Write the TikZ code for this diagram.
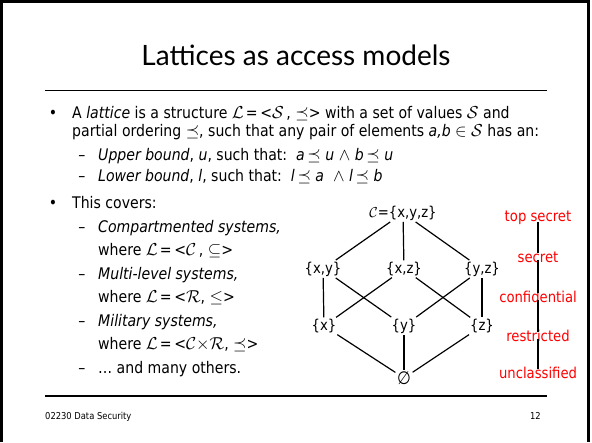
\documentclass[tikz,border=0pt]{standalone}
\usepackage{fontspec}
\setmainfont{DejaVu Sans}[FakeStretch=0.88]
\newfontfamily\titlefont{Lato}
\usetikzlibrary{positioning}

\begin{document}
\begin{tikzpicture}[
        x=1pt, y=-1pt,
        bodytext/.style={
            anchor=base west,
            inner sep=0pt,
            font=\fontsize{16}{19}\selectfont
        },
        bulletmark/.style={
            anchor=base,
            inner sep=0pt,
            font=\fontsize{16}{19}\selectfont
        },
        setnode/.style={
            inner sep=1.5pt,
            font=\fontsize{15}{18}\selectfont
        },
        levelnode/.style={
            inner sep=0pt,
            text=red,
            font=\fontsize{15}{18}\selectfont
        },
        orderline/.style={
            line width=1.2pt
        },
        rule/.style={
            line width=1.8pt
        }
    ]
        \useasboundingbox (0,0) rectangle (592,442);

        % Slide frame and title
        \draw[line width=3pt] (1.5,442) -- (1.5,1.5) -- (588.5,1.5) -- (588.5,442);
        \node[anchor=base, inner sep=0pt, font=\titlefont\fontsize{28}{32}\selectfont]
            (title) at (296,65) {Lattices as access models};
        \draw[rule] (45,90.5) -- (547,90.5);

        % Definition
        \node[bulletmark] (b1) at (53,118) {\textbullet};
        \node[bodytext] (l1) at (72,118)
            {A \textit{lattice} is a structure $\mathcal{L}$\kern2pt=\,<$\mathcal{S}$\,, $\preceq$> with a set of values $\mathcal{S}$ and};
        \node[bodytext] (l2) at (72,136)
            {partial ordering $\preceq$, such that any pair of elements \textit{a,b} $\in$ $\mathcal{S}$ has an:};
        \node[bulletmark] (d1) at (82,160) {--};
        \node[bodytext] (l3) at (98,160)
            {\textit{Upper bound}, \textit{u}, such that:\ \ \textit{a}\,$\preceq$ \textit{u} $\wedge$ \textit{b}\,$\preceq$ \textit{u}};
        \node[bulletmark] (d2) at (82,181) {--};
        \node[bodytext] (l4) at (98,181)
            {\textit{Lower bound}, \textit{l}, such that:\ \ \textit{l}\,$\preceq$ \textit{a} \ $\wedge$ \textit{l}\,$\preceq$ \textit{b}};

        % Examples
        \node[bulletmark] (b2) at (53,208) {\textbullet};
        \node[bodytext] (l5) at (72,208) {This covers:};
        \node[bulletmark] (d3) at (82,232) {--};
        \node[bodytext] (l6) at (98,232) {\textit{Compartmented systems,}};
        \node[bodytext] (l7) at (98,255)
            {where $\mathcal{L}$\kern2pt=\,<$\mathcal{C}$\,, $\subseteq$>};
        \node[bulletmark] (d4) at (82,279) {--};
        \node[bodytext] (l8) at (98,279) {\textit{Multi-level systems,}};
        \node[bodytext] (l9) at (98,302)
            {where $\mathcal{L}$\kern2pt=\,<$\mathcal{R}$, $\leq$>};
        \node[bulletmark] (d5) at (82,326) {--};
        \node[bodytext] (l10) at (98,326) {\textit{Military systems,}};
        \node[bodytext] (l11) at (98,349)
            {where $\mathcal{L}$\kern2pt=\,<$\mathcal{C}{\times}\mathcal{R}$, $\preceq$>};
        \node[bulletmark] (d6) at (82,373) {--};
        \node[bodytext] (l12) at (98,373) {… and many others.};

        % Lattice of subsets
        \node[setnode] (xyz) at (403,213) {$\mathcal{C}$=\{x,y,z\}};
        \node[setnode] (xy) at (323,269) {\{x,y\}};
        \node[setnode] (xz) at (404,269) {\{x,z\}};
        \node[setnode] (yz) at (482,269) {\{y,z\}};
        \node[setnode] (x) at (324,326) {\{x\}};
        \node[setnode] (y) at (404,326) {\{y\}};
        \node[setnode] (z) at (482,326) {\{z\}};
        \node[setnode, font=\fontsize{18}{20}\selectfont] (none) at (404,378) {\textit{∅}};

        \draw[orderline] (xyz) -- (xy);
        \draw[orderline] (xyz) -- (xz);
        \draw[orderline] (xyz) -- (yz);
        \draw[orderline] (xy) -- (x);
        \draw[orderline] (xy) -- (y);
        \draw[orderline] (xz) -- (x);
        \draw[orderline] (xz) -- (z);
        \draw[orderline] (yz) -- (y);
        \draw[orderline] (yz) -- (z);
        \draw[orderline] (x) -- (none);
        \draw[orderline] (y) -- (none);
        \draw[orderline] (z) -- (none);

        % Classification levels
        \node[levelnode] (top) at (538,218) {top secret};
        \node[levelnode] (sec) at (538,257) {secret};
        \node[levelnode] (conf) at (538,297) {confidential};
        \node[levelnode] (restr) at (538,336) {restricted};
        \node[levelnode] (uncl) at (538,373) {unclassified};

        \draw[orderline, shorten <=-3pt, shorten >=-2pt] (top) -- (sec);
        \draw[orderline, shorten <=-3pt, shorten >=-2pt] (sec) -- (conf);
        \draw[orderline, shorten <=-3pt, shorten >=-2pt] (conf) -- (restr);
        \draw[orderline, shorten <=-3pt, shorten >=-2pt] (restr) -- (uncl);

        % Footer
        \draw[rule] (45,396) -- (547,396);
        \node[anchor=base west, inner sep=0pt, font=\fontsize{9.5}{11}\selectfont]
            (course) at (45,419) {02230 Data Security};
        \node[anchor=base east, inner sep=0pt, font=\fontsize{9.5}{11}\selectfont]
            (page) at (541,419) {12};

    \end{tikzpicture}
\end{document}
